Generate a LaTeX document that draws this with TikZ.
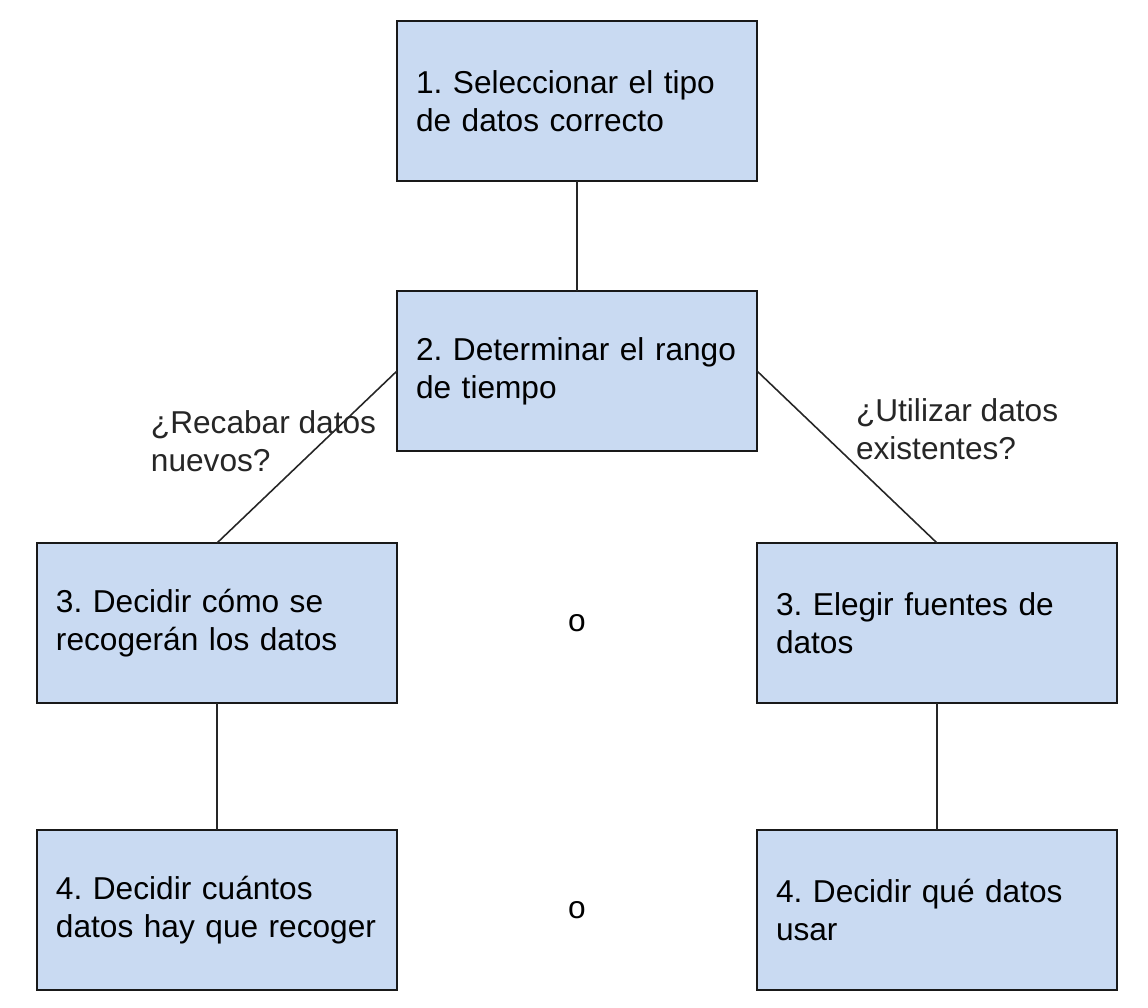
\documentclass[tikz,border=0pt]{standalone}
\usepackage{fontspec}
\setmainfont{Liberation Sans}
\usepackage{tikz}
\usetikzlibrary{positioning, calc}
\usepackage{xcolor}
\definecolor{boxblue}{HTML}{C9DAF2}

\begin{document}
\frenchspacing
\begin{tikzpicture}[
    node distance=2.2cm and 1.8cm,
    largebox/.style={
        draw=black!90, fill=boxblue, rectangle, line width=1.1pt, align=left,
        font=\fontsize{18pt}{21.6pt}\selectfont\frenchspacing,
        text width=6.44cm, inner xsep=0.38cm, inner ysep=0pt, outer sep=0pt,
        minimum width=7.2cm, minimum height=3.2cm
    },
    qlabel/.style={
        align=left, inner sep=0pt,
        font=\fontsize{18pt}{21.6pt}\selectfont\frenchspacing
    },
    line/.style={draw, black!85, line width=0.9pt}
]
    \useasboundingbox (-11.54,2.02) rectangle (11.42,-18.14);

    \node[largebox] (Select) at (0,0) {1. Seleccionar el tipo\\de datos correcto};
    \node[largebox, below=2.2cm of Select] (Range) {2. Determinar el rango\\de tiempo};
    \node[largebox, below left=1.84cm and 0cm of Range] (Collect) {3. Decidir cómo se\\recogerán los datos};
    \node[largebox, below right=1.84cm and 0cm of Range] (Sources) {3. Elegir fuentes de\\datos};
    \node[largebox, below=2.54cm of Collect] (Amount) {4. Decidir cuántos\\datos hay que recoger};
    \node[largebox, below=2.54cm of Sources] (Usage) {4. Decidir qué datos\\usar};

    \node[qlabel] (OrTop) at ($(Collect)!0.5!(Sources)$) {o};
    \node[qlabel] (OrBottom) at ($(Amount)!0.5!(Usage)$) {o};

    \draw[line] (Select) -- (Range);
    \draw[line] (Range.west) -- node[qlabel, pos=0.41, anchor=west, xshift=-3.46cm] (New) {¿Recabar datos\\nuevos?} (Collect.north);
    \draw[line] (Range.east) -- node[qlabel, pos=0.34, anchor=west, xshift=0.74cm] (Existing) {¿Utilizar datos\\existentes?} (Sources.north);
    \draw[line] (Collect) -- (Amount);
    \draw[line] (Sources) -- (Usage);
\end{tikzpicture}
\end{document}
